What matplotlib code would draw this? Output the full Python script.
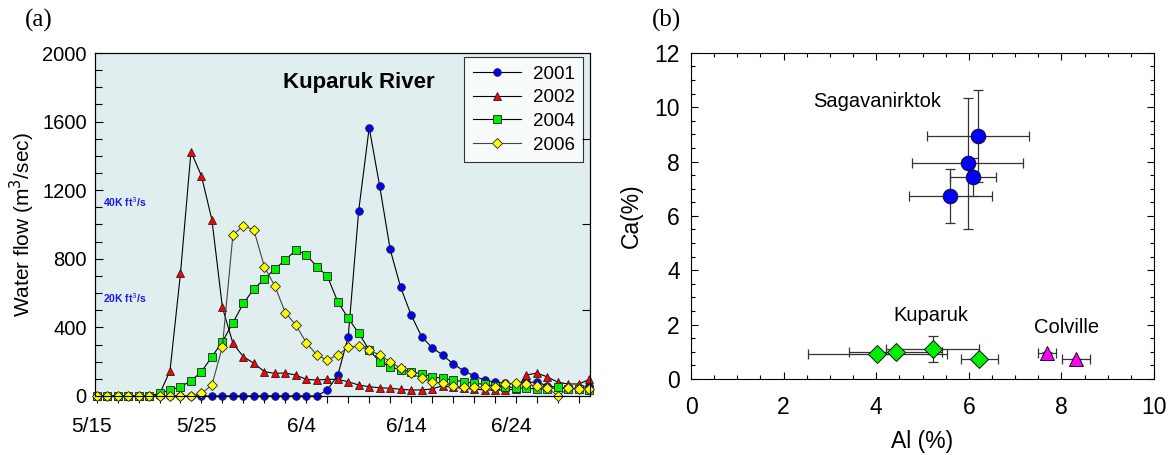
import numpy as np
import matplotlib
matplotlib.use("Agg")
import matplotlib.pyplot as plt
from matplotlib.transforms import ScaledTranslation
from matplotlib.ticker import MultipleLocator

plt.rcParams['font.family'] = ['Liberation Sans', 'DejaVu Sans']

# (a) daily water flow, m3/sec, one value per day starting 5/15
flow_2001 = [0] * 22 + [35, 120, 346, 1081, 1565, 1224, 855, 634, 472, 346, 282, 239,
                        187, 148, 117, 93, 80, 74, 70, 80, 80, 60, 50, 45, 45, 60]
flow_2002 = [0] * 6 + [10, 147, 715, 1425, 1283, 1026, 517, 307, 229, 191, 142, 132,
                       134, 122, 97, 93, 97, 97, 83, 64, 54, 48, 45, 39, 35, 35, 41,
                       60, 50, 45, 40, 35, 35, 35, 40, 122, 134, 111, 80, 70, 70, 97]
flow_2004 = [0] * 6 + [15, 35, 54, 87, 142, 229, 317, 427, 540, 624, 682, 741, 793,
                       851, 824, 754, 700, 550, 453, 366, 268, 200, 171, 152, 142, 128,
                       113, 103, 93, 83, 74, 68, 58, 54, 48, 45, 41, 41, 51, 41, 41, 35]
flow_2006 = [0] * 10 + [15, 64, 288, 939, 993, 968, 754, 641, 486, 414, 311, 239, 210,
                        239, 284, 292, 268, 239, 200, 161, 132, 103, 83, 74, 58, 54,
                        51, 51, 51, 68, 77, 68, 58, 48, 0, 45, 41, 41]
date_labels = ['5/15', '5/25', '6/4', '6/14', '6/24']

# (b) Al vs Ca with standard deviations
sag_al = [6.19, 5.98, 6.09, 5.60]
sag_ca = [8.94, 7.93, 7.44, 6.74]
sag_al_err = [1.1, 1.2, 0.5, 0.9]
sag_ca_err = [1.7, 2.4, 0.7, 1.0]

kup_al = [4.02, 4.42, 5.22, 6.22]
kup_ca = [0.91, 1.00, 1.10, 0.73]
kup_al_err = [1.5, 1.0, 1.0, 0.4]
kup_ca_err = [0.0, 0.0, 0.47, 0.0]

col_al = [7.69, 8.31]
col_ca = [0.94, 0.75]
col_al_err = [0.19, 0.3]
col_ca_err = [0.06, 0.0]

fig = plt.figure(figsize=(11.72, 4.55), dpi=100)

# ---------- panel (a) ----------
ax1 = fig.add_axes([0.0811, 0.1297, 0.4222, 0.7538])
ax1.set_facecolor('#e1eef0')

series = [
    (flow_2001, '2001', 'o', '#0000ff', 'black', 5.5),
    (flow_2002, '2002', '^', '#ff0000', 'black', 6),
    (flow_2004, '2004', 's', '#00ee00', 'black', 5.5),
    (flow_2006, '2006', 'D', '#ffff00', '#444444', 5),
]
for vals, lab, mk, fc, lc, ms in series:
    days = np.arange(len(vals))
    ax1.plot(days, vals, color=lc, lw=0.8, marker=mk, ms=ms, mfc=fc,
             mec='#222222', mew=0.6, label=lab, clip_on=False, zorder=3)

ax1.set_xlim(-0.15, 47.05)
ax1.set_ylim(0, 2000)
ax1.set_xticks(np.arange(0, 50, 10))
ax1.set_xticklabels(date_labels)
ax1.xaxis.set_minor_locator(MultipleLocator(2))
ax1.set_yticks(np.arange(0, 2001, 400))
ax1.yaxis.set_minor_locator(MultipleLocator(100))
ax1.tick_params(axis='y', which='both', direction='in', length=6, width=0.8,
                labelsize=14.5, pad=6)
ax1.tick_params(axis='y', which='minor', length=5)
ax1.tick_params(axis='x', which='both', direction='out', length=5, width=0.8,
                labelsize=15, pad=10)
offset = ScaledTranslation(-0.05, 0, fig.dpi_scale_trans)
for lbl in ax1.get_xticklabels():
    lbl.set_transform(lbl.get_transform() + offset)

# ticks on the right edge
ax1r = ax1.twinx()
ax1r.set_ylim(0, 2000)
ax1r.set_yticks([500, 1000, 1500])
ax1r.tick_params(axis='y', direction='in', length=6, width=0.8, labelright=False)

ax1.set_ylabel('Water flow (m$^3$/sec)', fontsize=15)
ax1.yaxis.set_label_coords(-0.118, 0.5)

ax1.text(25, 1830, 'Kuparuk River', fontsize=16, fontweight='bold',
         ha='center', va='center')
ax1.text(0.6, 1130, '40K ft$^3$/s', color='#1a1ae6', fontsize=7.5,
         fontweight='bold', va='center')
ax1.text(0.6, 570, '20K ft$^3$/s', color='#1a1ae6', fontsize=7.5,
         fontweight='bold', va='center')

leg = ax1.legend(loc='upper right', bbox_to_anchor=(0.986, 0.988), fontsize=13.5,
                 frameon=True, fancybox=False, edgecolor='black',
                 handlelength=2.6, borderpad=0.45, labelspacing=0.35,
                 handletextpad=0.6, borderaxespad=0)
leg.get_frame().set_linewidth(0.8)
leg.set_zorder(5)

fig.text(0.021, 0.955, '(a)', fontsize=18, family='Liberation Serif',
         va='center')

# ---------- panel (b) ----------
ax2 = fig.add_axes([0.5896, 0.167, 0.3951, 0.717])

err_kw = dict(ls='none', ecolor='#333333', elinewidth=0.9, capsize=3.5,
              capthick=0.9, zorder=2)
ax2.errorbar(sag_al, sag_ca, xerr=sag_al_err, yerr=sag_ca_err, **err_kw)
ax2.errorbar(kup_al, kup_ca, xerr=kup_al_err, yerr=kup_ca_err, **err_kw)
ax2.errorbar(col_al, col_ca, xerr=col_al_err, yerr=col_ca_err, **err_kw)

ax2.plot(sag_al, sag_ca, 'o', ms=10.5, mfc='#0000ff', mec='#111111', mew=0.7,
         ls='none', zorder=3)
ax2.plot(kup_al, kup_ca, 'D', ms=9.5, mfc='#00ee00', mec='#111111', mew=0.7,
         ls='none', zorder=3)
ax2.plot(col_al, col_ca, '^', ms=10, mfc='#ff00ff', mec='#111111', mew=0.7,
         ls='none', zorder=3)

ax2.set_xlim(0, 10)
ax2.set_ylim(0, 12)
ax2.xaxis.set_major_locator(MultipleLocator(2))
ax2.xaxis.set_minor_locator(MultipleLocator(0.5))
ax2.yaxis.set_major_locator(MultipleLocator(2))
ax2.yaxis.set_minor_locator(MultipleLocator(0.5))
ax2.tick_params(which='both', direction='in', top=True, right=True, width=0.8,
                labelsize=16.5)
ax2.tick_params(which='major', length=5)
ax2.tick_params(which='minor', length=3)
ax2.tick_params(axis='x', pad=12)
ax2.tick_params(axis='y', pad=8)

ax2.set_xlabel('Al (%)', fontsize=16.5)
ax2.xaxis.set_label_coords(0.5, -0.156)
ax2.set_ylabel('Ca(%)', fontsize=16.5)
ax2.yaxis.set_label_coords(-0.104, 0.5)

ax2.text(4.03, 10.2, 'Sagavanirktok', fontsize=14.5, ha='center', va='center')
ax2.text(5.17, 2.32, 'Kuparuk', fontsize=14.5, ha='center', va='center')
ax2.text(8.11, 1.91, 'Colville', fontsize=14.5, ha='center', va='center')

fig.text(0.556, 0.955, '(b)', fontsize=18, family='Liberation Serif',
         va='center')

fig.savefig('out.png', dpi=100)
